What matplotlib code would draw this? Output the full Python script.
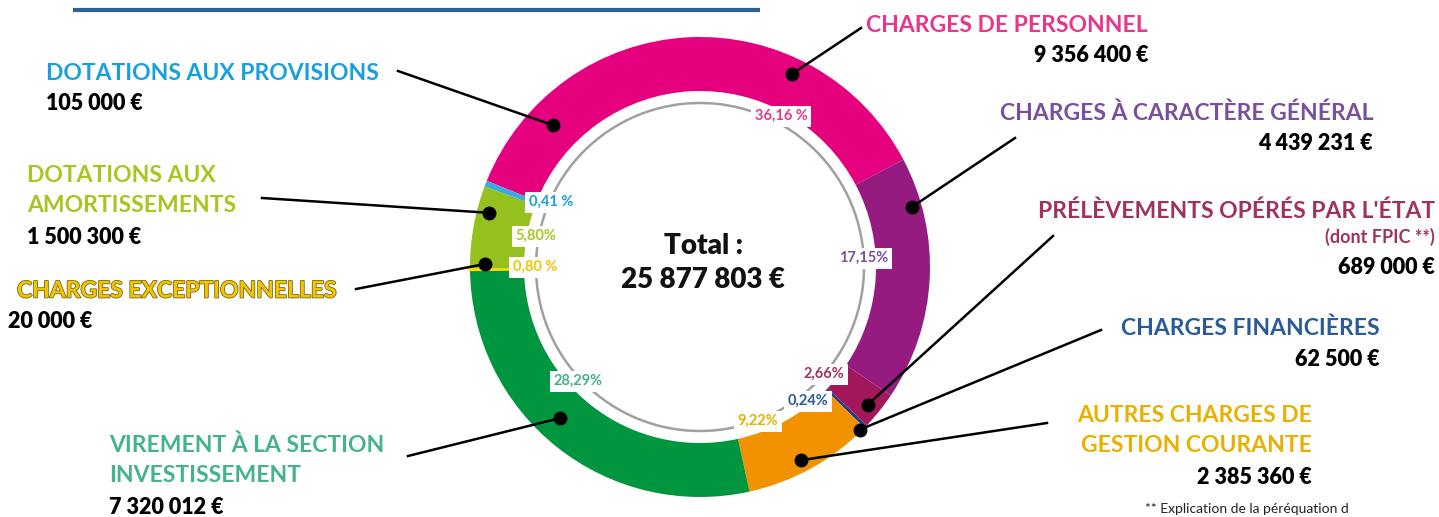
import matplotlib
matplotlib.use("Agg")
import matplotlib.pyplot as plt
import matplotlib.patheffects as pe
import numpy as np

plt.rcParams["font.family"] = ["Lato", "DejaVu Sans"]

# --- données ---
postes = [
    "CHARGES DE PERSONNEL",
    "CHARGES À CARACTÈRE GÉNÉRAL",
    "PRÉLÈVEMENTS OPÉRÉS PAR L'ÉTAT",
    "CHARGES FINANCIÈRES",
    "AUTRES CHARGES DE\nGESTION COURANTE",
    "VIREMENT À LA SECTION\nINVESTISSEMENT",
    "CHARGES EXCEPTIONNELLES",
    "DOTATIONS AUX\nAMORTISSEMENTS",
    "DOTATIONS AUX PROVISIONS",
]
montants = [9356400, 4439231, 689000, 62500, 2385360, 7320012, 20000, 1500300, 105000]
montants_txt = ["9 356 400 €", "4 439 231 €", "689 000 €", "62 500 €", "2 385 360 €",
                "7 320 012 €", "20 000 €", "1 500 300 €", "105 000 €"]
pourcents_txt = ["36,16 %", "17,15%", "2,66%", "0,24%", "9,22%",
                 "28,29%", "0,80 %", "5,80%", "0,41 %"]
total_txt = "Total :\n25 877 803 €"

couleurs_parts = ["#E5007E", "#951B81", "#A2185B", "#2E3A87", "#F39200",
                  "#009640", "#FFDD00", "#95C11F", "#3AAAE1"]
couleurs_textes = ["#E8368A", "#7A4F9E", "#A0325F", "#2A5B98", "#E8B000",
                   "#44B38A", "#F2C500", "#A9C520", "#18A0DE"]

# --- mise en page (pixels, origine en haut à gauche) ---
W, H = 1439, 517
CX, CY, R, LARGEUR = 700, 267, 230, 54
INTERLIGNE = 31


def Y(y):
    return H - y


# position du libellé: (x, y de la 1re ligne, alignement)
pos_libelles = [
    (1148, 25, "right"), (1373, 113, "right"), (1435, 211, "right"),
    (1380, 328, "right"), (1312, 415, "right"), (109, 445, "left"),
    (17, 291, "left"), (27, 175, "left"), (46, 73, "left"),
]
# ligne de rappel: départ côté texte, point sur l'anneau (angle, rayon)
depart_traits = [(861, 28), (1015, 138), (1053, 236), (1101, 330), (1047, 423),
                 (408, 456), (356, 289), (262, 198), (398, 71)]
points_anneau = [(64.5, 214), (15.8, 220), (-39.4, 217), (-45.5, 228), (-62.4, 218),
                 (227.2, 206), (179.2, 215), (165.6, 218), (136.0, 204)]
pos_pourcents = [(781, 116), (864, 258), (824, 374), (808, 401), (758, 421),
                 (578, 381), (535, 267), (536, 236), (551, 202)]

fig = plt.figure(figsize=(W / 100, H / 100), dpi=100)
ax = fig.add_axes([0, 0, 1, 1])

wedges, _ = ax.pie(montants, colors=couleurs_parts, startangle=158, counterclock=False,
                   radius=R, center=(CX, Y(CY)),
                   wedgeprops=dict(width=LARGEUR, linewidth=0))
# la part des charges exceptionnelles est très fine : on l'épaissit un peu
wedges[6].set_edgecolor(couleurs_parts[6])
wedges[6].set_linewidth(2.5)

ax.add_patch(plt.Circle((CX, Y(CY)), 164, fill=False, ec="#A0A0A0", lw=1.8))

# filet bleu en haut
ax.plot([73, 760], [Y(10), Y(10)], color="#2F5F9A", lw=3, solid_capstyle="butt")

ax.text(CX + 3, Y(263), total_txt, ha="center", va="center", fontsize=20,
        fontweight="heavy", color="#111111", linespacing=1.35)

for i, nom in enumerate(postes):
    x, y, ha = pos_libelles[i]
    effets = None
    if i == 6:
        effets = [pe.withStroke(linewidth=1.2, foreground="#7A6A1A")]
    lignes = nom.split("\n")
    for k, ligne in enumerate(lignes):
        ax.text(x, Y(y + k * INTERLIGNE), ligne, ha=ha, va="center", fontsize=16.5,
                fontweight="bold", color=couleurs_textes[i], path_effects=effets)
    y_val = y + INTERLIGNE * len(lignes)
    if i == 2:
        ax.text(x, Y(y + 26), "(dont FPIC **)", ha=ha, va="center", fontsize=13,
                fontweight="bold", color=couleurs_textes[i])
        y_val = y + 56
    if i == 6:
        x = 8
    ax.text(x, Y(y_val), montants_txt[i], ha=ha, va="center",
            fontsize=15.5, fontweight="heavy", color="black")

    # trait de rappel
    ang, rr = points_anneau[i]
    px = CX + rr * np.cos(np.radians(ang))
    py = Y(CY) + rr * np.sin(np.radians(ang))
    x0, y0 = depart_traits[i]
    ax.plot([x0, px], [Y(y0), py], color="black", lw=1.8)
    ax.plot(px, py, "o", color="black", ms=9)

    # pourcentage
    tx, ty = pos_pourcents[i]
    ax.text(tx, Y(ty), pourcents_txt[i], ha="center", va="center", fontsize=10.5,
            fontweight="bold", color=couleurs_textes[i],
            bbox=dict(fc="white", ec="none", pad=2.5))

ax.text(1145, Y(509), "** Explication de la péréquation d", ha="left", va="center",
        fontsize=10, color="#222222")

ax.set_xlim(0, W)
ax.set_ylim(0, H)
ax.set_aspect("auto")
ax.axis("off")

fig.savefig("out.png", dpi=100)
